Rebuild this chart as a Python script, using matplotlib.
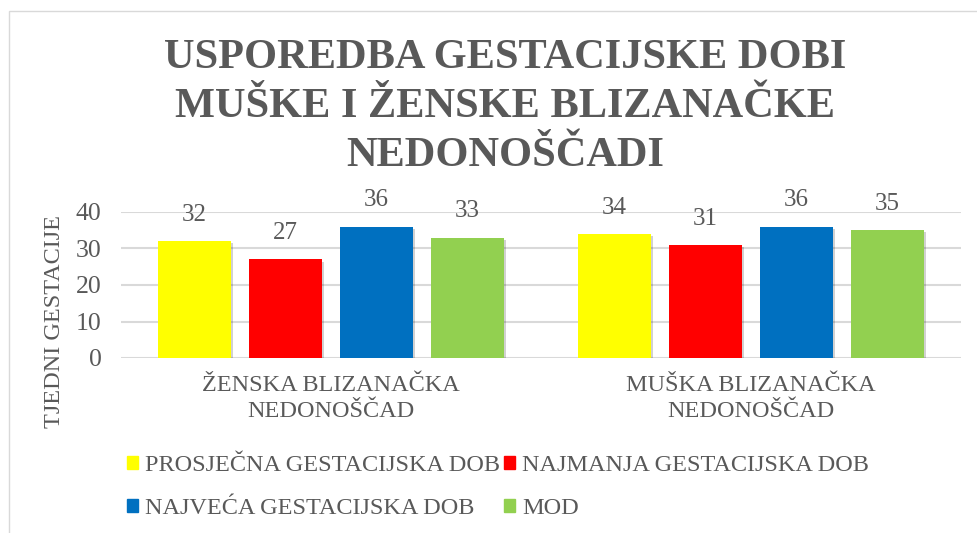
import matplotlib.pyplot as plt
import matplotlib.patheffects as pe
from matplotlib.patches import Patch, Rectangle

# data
groups = ['ŽENSKA BLIZANAČKA\nNEDONOŠČAD', 'MUŠKA BLIZANAČKA\nNEDONOŠČAD']
series = ['PROSJEČNA GESTACIJSKA DOB', 'NAJMANJA GESTACIJSKA DOB',
          'NAJVEĆA GESTACIJSKA DOB', 'MOD']
prosjecna = [32, 34]
najmanja = [27, 31]
najveca = [36, 36]
mod = [33, 35]
colors = ['#ffff00', '#ff0000', '#0070c0', '#92d050']

plt.rcParams['font.family'] = ['Liberation Serif', 'DejaVu Serif']
grey = '#595959'

W, H = 978, 533
fig = plt.figure(figsize=(W / 100, H / 100), dpi=100)

# light border of the chart area
fig.patches.append(Rectangle((8.5 / W, -0.1), 1.2, 1.1 - 11.5 / H,
                             transform=fig.transFigure, fill=False,
                             edgecolor='#d9d9d9', linewidth=1))

ax = fig.add_axes([121 / W, 1 - 358 / H, 840 / W, 146 / H])

step = 0.2167
width = 0.174
x = [0, 1]
handles = []
shadow = [pe.SimplePatchShadow(offset=(1.5, -1.5), shadow_rgbFace='#000000', alpha=0.18),
          pe.Normal()]
for k, vals in enumerate([prosjecna, najmanja, najveca, mod]):
    pos = [xi + (k - 1.5) * step for xi in x]
    bars = ax.bar(pos, vals, width, color=colors[k], zorder=3)
    for b, v in zip(bars, vals):
        b.set_path_effects(shadow)
        ax.annotate(str(v), (b.get_x() + b.get_width() / 2, v),
                    xytext=(0, 11), textcoords='offset points',
                    ha='center', va='bottom', fontsize=18, color=grey)
    handles.append(Patch(color=colors[k], label=series[k]))

ax.set_xlim(-0.5, 1.5)
ax.set_ylim(0, 40)
ax.set_yticks([0, 10, 20, 30, 40])
ax.yaxis.grid(True, color='#d9d9d9', linewidth=1.5, zorder=0)
ax.set_axisbelow(True)
for s in ax.spines.values():
    s.set_visible(False)
ax.tick_params(length=0, labelsize=18.5, labelcolor=grey)
ax.tick_params(axis='y', pad=14)
ax.tick_params(axis='x', pad=12)
ax.set_xticks(x)
ax.set_xticklabels(groups, fontsize=17.5, linespacing=1.32)

fig.text(55 / W, 1 - 322 / H, 'TJEDNI GESTACIJE', rotation=90,
         ha='center', va='center', fontsize=17.5, color=grey)

fig.text(505 / W, 1 - 107 / H,
         'USPOREDBA GESTACIJSKE DOBI\nMUŠKE I ŽENSKE BLIZANAČKE\nNEDONOŠČADI',
         ha='center', va='center', fontsize=30.5, fontweight='bold',
         color=grey, linespacing=1.38)

# legend, row-wise order
order = [0, 2, 1, 3]
leg = fig.legend([handles[i] for i in order], [series[i] for i in order],
                 loc='center', bbox_to_anchor=(498 / W, 1 - 487 / H),
                 ncol=2, frameon=False, fontsize=17.5, handlelength=0.45,
                 handleheight=0.45, handletextpad=0.3, columnspacing=0.15,
                 labelspacing=0.88, borderpad=0)
for t in leg.get_texts():
    t.set_color(grey)

fig.savefig('out.png', dpi=100)
